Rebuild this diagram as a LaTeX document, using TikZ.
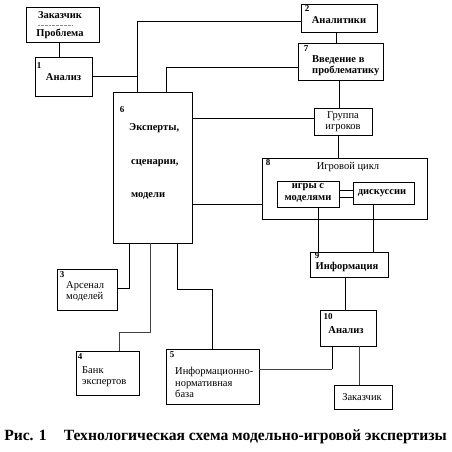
\documentclass[tikz,border=0pt]{standalone}
\usepackage{fontspec}
\setmainfont{Liberation Serif}
\begin{document}
\begin{tikzpicture}[x=1pt,y=-1pt,
  box/.style={draw, line width=0.7pt, inner sep=0pt, outer sep=0pt},
  txt/.style={font=\fontsize{10.5}{11.5}\selectfont\bfseries, inner sep=0pt, align=center},
  rtxt/.style={font=\fontsize{10.5}{11.5}\selectfont, inner sep=0pt, align=center},
  ltxt/.style={font=\fontsize{10.5}{11.5}\selectfont, inner sep=0pt, align=left, anchor=west},
  num/.style={font=\fontsize{9}{10}\selectfont\bfseries, inner sep=0pt},
  link/.style={line width=0.6pt},
  faint/.style={line width=0.45pt, black!75}]
\useasboundingbox (0,0) rectangle (451,452);
\fill[white] (0,0) rectangle (451,452);

% boxes
\node[box, minimum width=73pt, minimum height=35pt] (zp) at (62.5,24.5) {};
\node[box, minimum width=57pt, minimum height=39pt] (a1) at (63.5,76.5) {};
\node[box, minimum width=76pt, minimum height=28pt] (b2) at (339,18) {};
\node[box, minimum width=85pt, minimum height=37pt] (b7) at (340.5,61.5) {};
\node[box, minimum width=58pt, minimum height=27pt] (gr) at (343,121.5) {};
\node[box, minimum width=79pt, minimum height=151pt] (b6) at (152.5,167.5) {};
\node[box, minimum width=165pt, minimum height=61pt] (b8) at (344.5,188.5) {};
\node[box, minimum width=62pt, minimum height=26pt] (ig) at (308,194) {};
\node[box, minimum width=61pt, minimum height=22pt] (ds) at (383.5,193) {};
\node[box, minimum width=78pt, minimum height=25pt] (b9) at (349,264.5) {};
\node[box, minimum width=56pt, minimum height=36pt] (b10) at (348,328) {};
\node[box, minimum width=58pt, minimum height=24pt] (zk) at (363,397) {};
\node[box, minimum width=60pt, minimum height=41pt] (b3) at (87,289.5) {};
\node[box, minimum width=63pt, minimum height=44pt] (b4) at (107.5,373) {};
\node[box, minimum width=93pt, minimum height=55pt] (b5) at (212.5,376.5) {};

% numbers
\node[num] (n1) at (39,66) {1};
\node[num] (n2) at (307,9) {2};
\node[num] (n3) at (62,275) {3};
\node[num] (n4) at (80,357) {4};
\node[num] (n5) at (172,355) {5};
\node[num] (n6) at (122,110) {6};
\node[num] (n7) at (306,49) {7};
\node[num] (n8) at (268,163) {8};
\node[num] (n9) at (317,256) {9};
\node[num] (n10) at (328,317) {10};

% texts
\node[txt] (tz) at (60,15) {Заказчик};
\node[txt] (tp) at (60,34) {Проблема};
\draw[line width=0.35pt, black!45, densely dotted] (38,25) -- (72,25);
\node[txt] (ta1) at (63.5,77) {Анализ};
\node[txt] (tb2) at (339,20) {Аналитики};
\node[txt, align=left, anchor=west] (tb7) at (312,65.5) {Введение в\\проблематику};
\node[rtxt] (tgr) at (343,121.5) {Группа\\игроков};
\node[txt, anchor=west] (te1) at (129,128) {Эксперты,};
\node[txt, anchor=west] (te2) at (131,163) {сценарии,};
\node[txt, anchor=west] (te3) at (131,196) {модели};
\node[rtxt] (tb8) at (348,167) {Игровой цикл};
\node[txt] (tig) at (308,193) {игры с\\моделями};
\node[txt] (tds) at (382,193) {дискуссии};
\node[txt] (tb9) at (347,267) {Информация};
\node[txt] (tb10) at (346,330) {Анализ};
\node[rtxt] (tzk) at (362,397) {Заказчик};
\node[ltxt] (tb3) at (66,291.5) {Арсенал\\моделей};
\node[ltxt] (tb4) at (82,376.5) {Банк\\экспертов};
\node[ltxt] (tb5) at (175,382.5) {Информационно-\\нормативная\\база};

% connectors
\coordinate (t1) at (137,21);
\coordinate (t2) at (166,67);
\coordinate (t3) at (0,118);
\coordinate (t4) at (0,204);
\coordinate (t5) at (318,0);
\coordinate (t6) at (373,0);
\coordinate (t7) at (345,0);
\coordinate (t8) at (332,369);
\coordinate (t9) at (359,0);
\coordinate (t10) at (129,288);
\coordinate (t11) at (150,332);
\coordinate (t12) at (119,332);
\coordinate (t13) at (177,289);
\coordinate (t14) at (212,289);
\coordinate (t15) at (59,0);

\draw[link] (t15 |- zp.south) -- (t15 |- a1.north);
\draw[link] (a1.east) -- (a1.east -| t1);
\draw[link] (b6.north -| t1) -- (t1) -- (t1 -| b2.west);
\draw[link] (b6.north -| t2) -- (t2) -- (t2 -| b7.west);
\draw[link] (t3 -| b6.east) -- (t3 -| gr.west);
\draw[link] (t4 -| b6.east) -- (t4 -| b8.west);
\draw[link] (b2.south -| 336,0) -- (b7.north -| 336,0);
\draw[link] (b7.south -| 339,0) -- (gr.north -| 339,0);
\draw[link] (gr.south -| 338,0) -- (b8.north -| 338,0);
\draw[link] ([yshift=4pt]ig.east) -- ([yshift=4pt]ig.east -| ds.west);
\draw[link] ([yshift=-3pt]ig.east) -- ([yshift=-3pt]ig.east -| ds.west);
\draw[link] (t5 |- ig.south) -- (t5 |- b9.north);
\draw[link] (t6 |- ds.south) -- (t6 |- b9.north);
\draw[link] (t7 |- b9.south) -- (t7 |- b10.north);
\draw[line width=0.9pt] (t8 |- b10.south) -- (t8);
\draw[faint] (t8) -- (t8 -| b5.east);
\draw[faint] (t9 |- b10.south) -- (t9 |- zk.north);
\draw[link] (t10 |- b6.south) -- (t10) -- (t10 -| b3.east);
\draw[faint] (t11 |- b6.south) -- (t11) -- (t12) -- (t12 |- b4.north);
\draw[link] (t13 |- b6.south) -- (t13) -- (t14) -- (t14 |- b5.north);

% caption
\node[font=\fontsize{15.6}{17}\selectfont\bfseries, inner sep=0pt] (cap) at (225.5,437) {Рис. 1\hspace{1.1em}Технологическая схема модельно-игровой экспертизы};
\end{tikzpicture}
\end{document}
